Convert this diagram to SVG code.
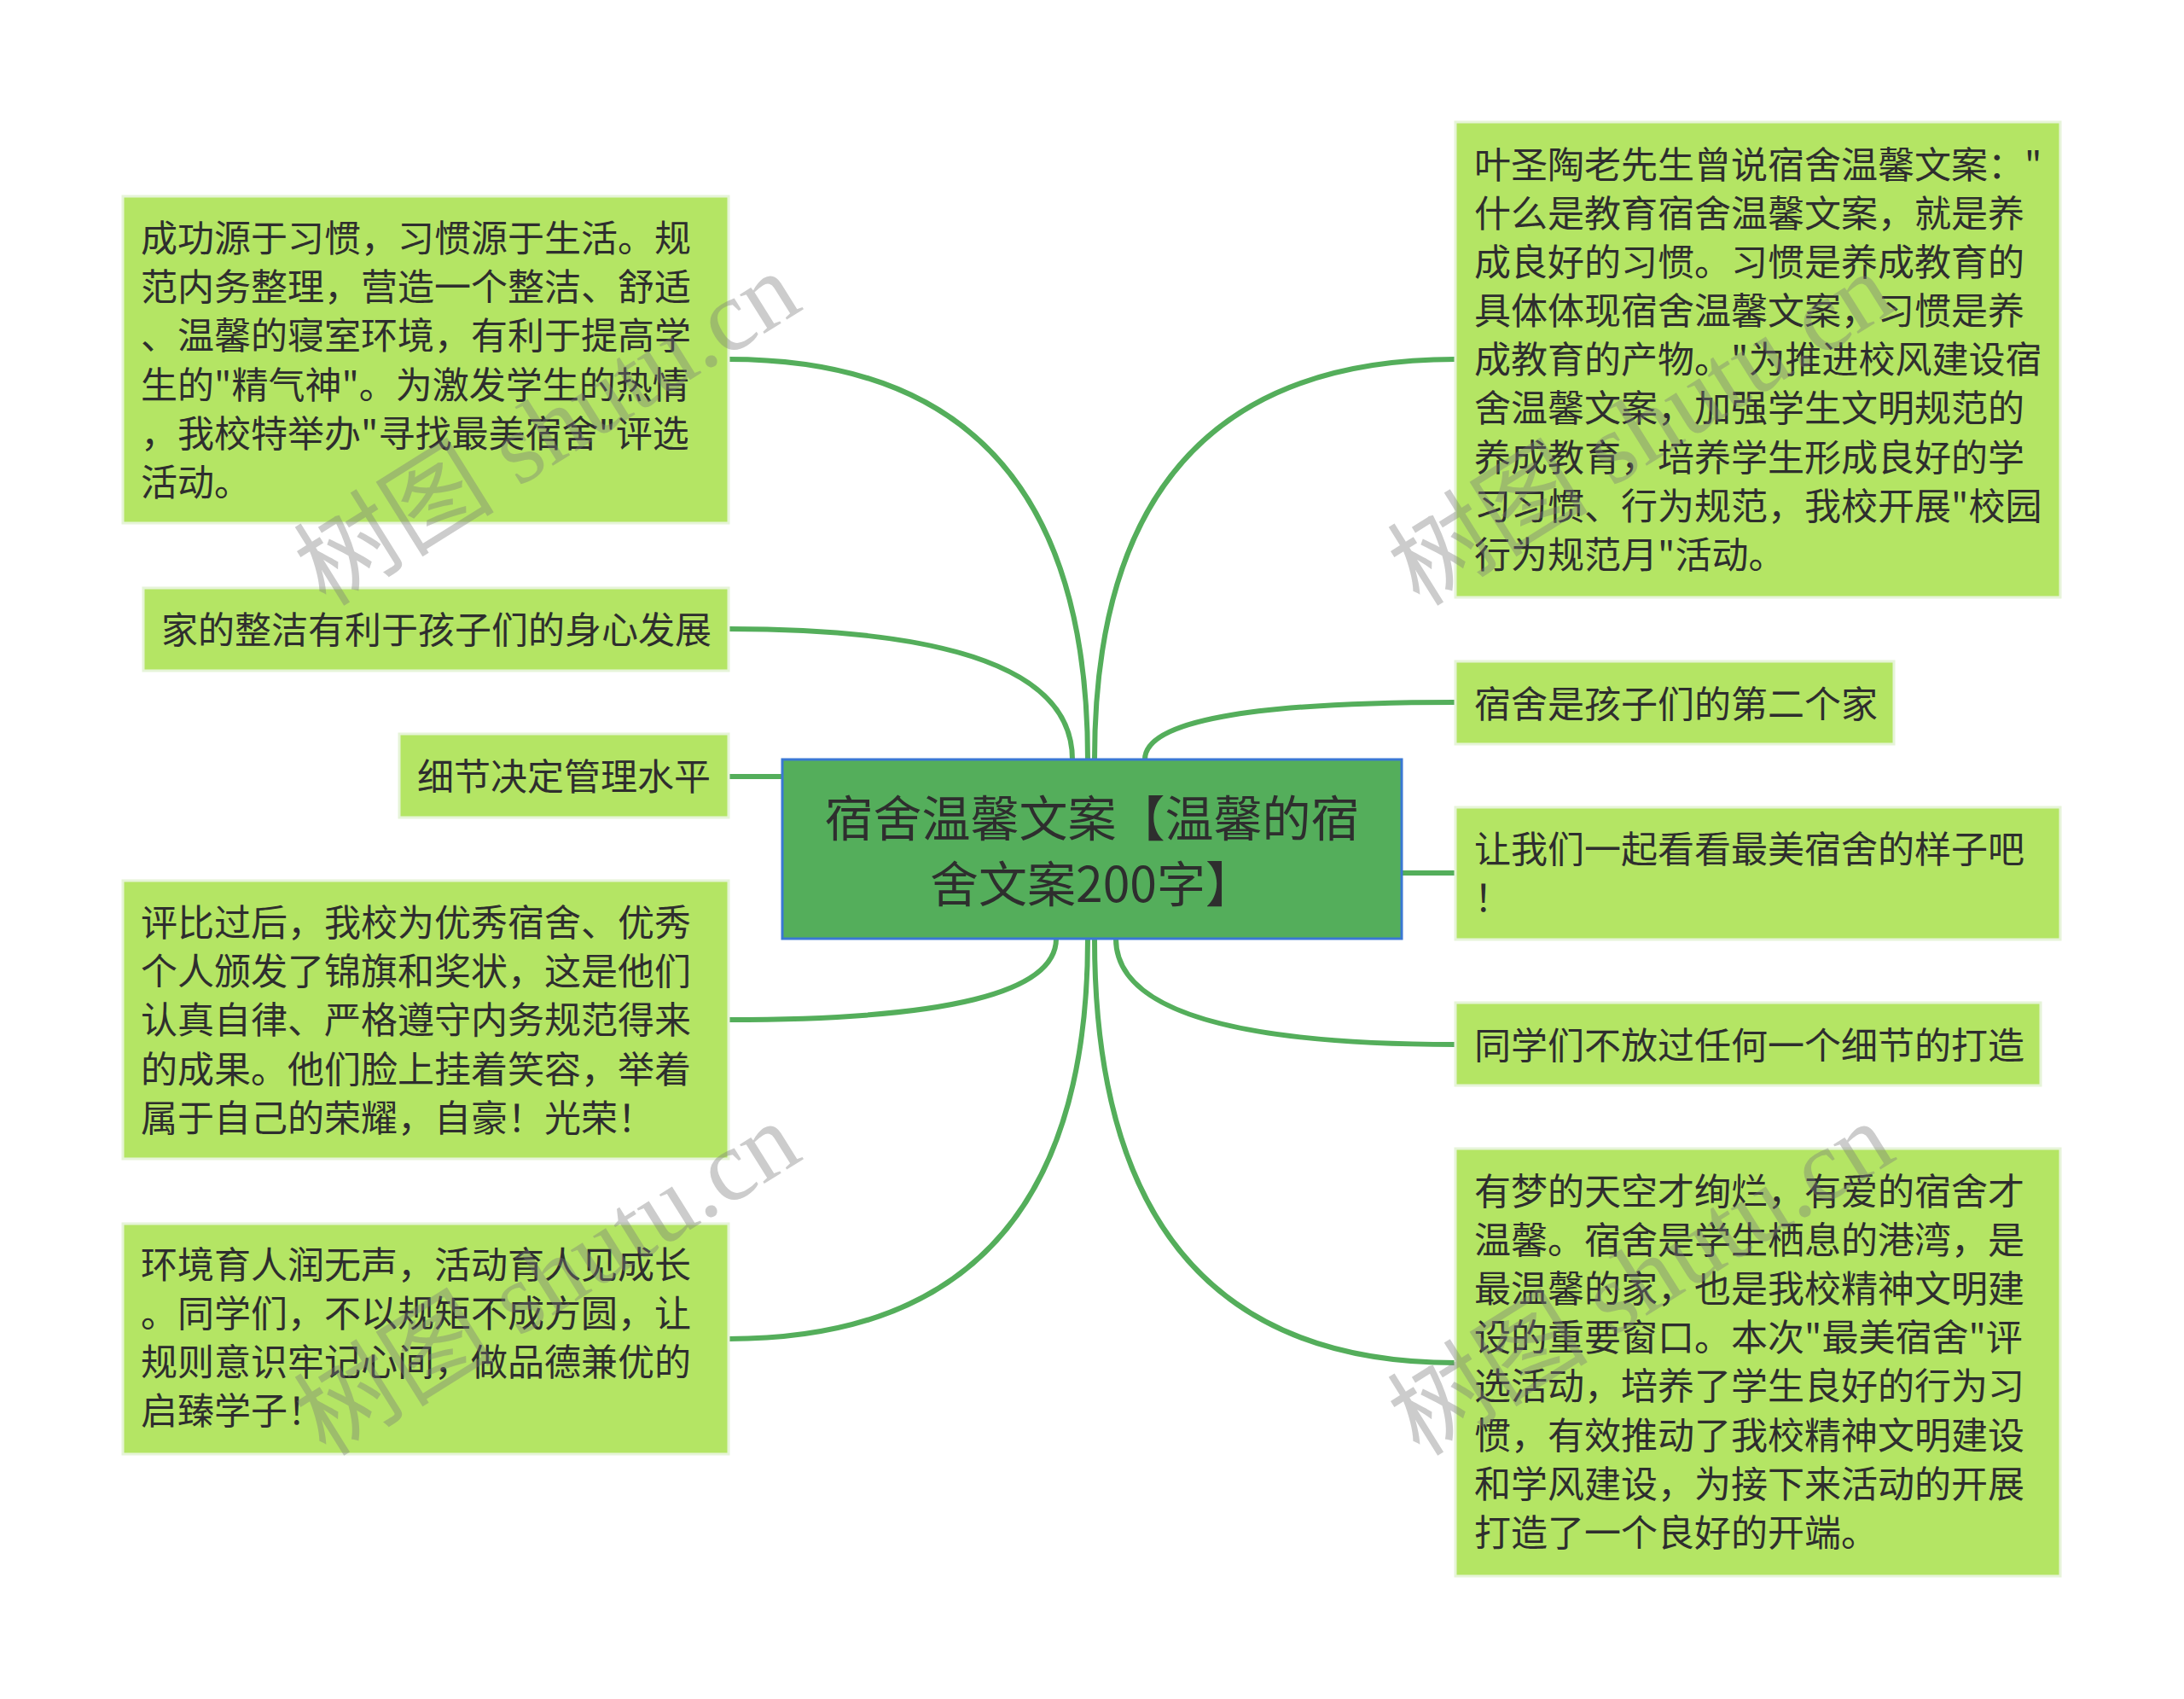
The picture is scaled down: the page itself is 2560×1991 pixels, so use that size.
<svg xmlns="http://www.w3.org/2000/svg" width="2560" height="1991" viewBox="0 0 2560 1991">
<style>
.node{fill:#b4e564;stroke:#e6f4d8;stroke-width:3}
.root{fill:#54ae5b;stroke:#3a78d4;stroke-width:3}
.t{font-family:"Noto Sans CJK SC","Noto Sans",sans-serif;font-size:43px;fill:#2e2e2e}
.rt{font-family:"Noto Sans CJK SC","Noto Sans",sans-serif;font-size:57px;fill:#2e2e2e;text-anchor:middle}
.edge{fill:none;stroke:#54ae5b;stroke-width:6}
.wm{font-family:"Liberation Serif","Noto Sans CJK SC",serif;font-size:118px;fill:#7a7a7a;opacity:0.38}
</style>
<rect width="2560" height="1991" fill="#ffffff"/>
<g id="connectors">
<path class="edge" d="M1275,890 Q1275,421 854,421"/>
<path class="edge" d="M1257,890 Q1257,737 854,737"/>
<path class="edge" d="M917,910 L854,910"/>
<path class="edge" d="M1238,1100 Q1238,1195 854,1195"/>
<path class="edge" d="M1275,1100 Q1275,1569 854,1569"/>
<path class="edge" d="M1283,890 Q1283,421 1706,421"/>
<path class="edge" d="M1342,890 Q1342,823 1706,823"/>
<path class="edge" d="M1643,1023 L1706,1023"/>
<path class="edge" d="M1308,1100 Q1308,1224 1706,1224"/>
<path class="edge" d="M1283,1100 Q1283,1597 1706,1597"/>
</g>
<g id="root">
<rect class="root" x="917" y="890" width="726" height="210"/>
<text class="rt" x="1280" y="980">宿舍温馨文案【温馨的宿</text>
<text class="rt" x="1280" y="1057">舍文案200字】</text>
</g>
<g id="n-l1">
<rect class="node" x="144" y="230" width="710" height="383"/>
<text class="t" x="165" y="295">成功源于习惯，习惯源于生活。规</text>
<text class="t" x="165" y="352">范内务整理，营造一个整洁、舒适</text>
<text class="t" x="165" y="409">、温馨的寝室环境，有利于提高学</text>
<text class="t" x="165" y="467">生的"精气神"。为激发学生的热情</text>
<text class="t" x="165" y="524">，我校特举办"寻找最美宿舍"评选</text>
<text class="t" x="165" y="581">活动。</text>
</g>
<g id="n-l2">
<rect class="node" x="168" y="689" width="686" height="97"/>
<text class="t" x="189" y="754">家的整洁有利于孩子们的身心发展</text>
</g>
<g id="n-l3">
<rect class="node" x="468" y="860" width="386" height="98"/>
<text class="t" x="489" y="926">细节决定管理水平</text>
</g>
<g id="n-l4">
<rect class="node" x="144" y="1032" width="710" height="326"/>
<text class="t" x="165" y="1097">评比过后，我校为优秀宿舍、优秀</text>
<text class="t" x="165" y="1154">个人颁发了锦旗和奖状，这是他们</text>
<text class="t" x="165" y="1211">认真自律、严格遵守内务规范得来</text>
<text class="t" x="165" y="1269">的成果。他们脸上挂着笑容，举着</text>
<text class="t" x="165" y="1326">属于自己的荣耀，自豪！光荣！</text>
</g>
<g id="n-l5">
<rect class="node" x="144" y="1434" width="710" height="270"/>
<text class="t" x="165" y="1498">环境育人润无声，活动育人见成长</text>
<text class="t" x="165" y="1555">。同学们，不以规矩不成方圆，让</text>
<text class="t" x="165" y="1612">规则意识牢记心间，做品德兼优的</text>
<text class="t" x="165" y="1669">启臻学子！</text>
</g>
<g id="n-r1">
<rect class="node" x="1706" y="143" width="709" height="557"/>
<text class="t" x="1728" y="209">叶圣陶老先生曾说宿舍温馨文案："</text>
<text class="t" x="1728" y="266">什么是教育宿舍温馨文案，就是养</text>
<text class="t" x="1728" y="323">成良好的习惯。习惯是养成教育的</text>
<text class="t" x="1728" y="380">具体体现宿舍温馨文案，习惯是养</text>
<text class="t" x="1728" y="437">成教育的产物。"为推进校风建设宿</text>
<text class="t" x="1728" y="494">舍温馨文案，加强学生文明规范的</text>
<text class="t" x="1728" y="552">养成教育，培养学生形成良好的学</text>
<text class="t" x="1728" y="609">习习惯、行为规范，我校开展"校园</text>
<text class="t" x="1728" y="666">行为规范月"活动。</text>
</g>
<g id="n-r2">
<rect class="node" x="1706" y="775" width="514" height="97"/>
<text class="t" x="1728" y="841">宿舍是孩子们的第二个家</text>
</g>
<g id="n-r3">
<rect class="node" x="1706" y="946" width="709" height="155"/>
<text class="t" x="1728" y="1011">让我们一起看看最美宿舍的样子吧</text>
<text class="t" x="1728" y="1068">！</text>
</g>
<g id="n-r4">
<rect class="node" x="1706" y="1175" width="686" height="97"/>
<text class="t" x="1728" y="1241">同学们不放过任何一个细节的打造</text>
</g>
<g id="n-r5">
<rect class="node" x="1706" y="1346" width="709" height="501"/>
<text class="t" x="1728" y="1412">有梦的天空才绚烂，有爱的宿舍才</text>
<text class="t" x="1728" y="1469">温馨。宿舍是学生栖息的港湾，是</text>
<text class="t" x="1728" y="1526">最温馨的家，也是我校精神文明建</text>
<text class="t" x="1728" y="1583">设的重要窗口。本次"最美宿舍"评</text>
<text class="t" x="1728" y="1640">选活动，培养了学生良好的行为习</text>
<text class="t" x="1728" y="1698">惯，有效推动了我校精神文明建设</text>
<text class="t" x="1728" y="1755">和学风建设，为接下来活动的开展</text>
<text class="t" x="1728" y="1812">打造了一个良好的开端。</text>
</g>
<g id="watermarks">
<text class="wm" transform="translate(382,712) rotate(-32)">树图 shutu.cn</text>
<text class="wm" transform="translate(382,1708) rotate(-32)">树图 shutu.cn</text>
<text class="wm" transform="translate(1664,712) rotate(-32)">树图 shutu.cn</text>
<text class="wm" transform="translate(1664,1708) rotate(-32)">树图 shutu.cn</text>
</g>
</svg>
